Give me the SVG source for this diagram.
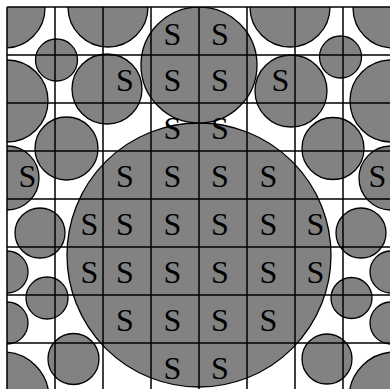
<svg xmlns="http://www.w3.org/2000/svg" width="390" height="389" viewBox="0 0 390 389">
<style>
.c{fill:#828282;stroke:#000;stroke-width:1.3}
.g{stroke:#000;stroke-width:1.5;fill:none}
.s{font-family:"Liberation Serif","Times New Roman",serif;font-size:32px;fill:#000;text-anchor:middle}
</style>
<defs><clipPath id="clip"><rect x="7" y="7" width="384" height="384"/></clipPath></defs>
<rect width="390" height="389" fill="#fff"/>
<g id="circles" clip-path="url(#clip)">
<circle class="c" cx="199" cy="255" r="132"/>
<circle class="c" cx="199" cy="65" r="58"/>
<circle class="c" cx="5" cy="8" r="40"/>
<circle class="c" cx="108" cy="7" r="40"/>
<circle class="c" cx="56.5" cy="60" r="21"/>
<circle class="c" cx="107" cy="89" r="35"/>
<circle class="c" cx="7" cy="101" r="41"/>
<circle class="c" cx="66.5" cy="148.5" r="31.5"/>
<circle class="c" cx="7" cy="178" r="32"/>
<circle class="c" cx="40" cy="233" r="25"/>
<circle class="c" cx="7" cy="272" r="21"/>
<circle class="c" cx="47" cy="298" r="21"/>
<circle class="c" cx="7" cy="323" r="21"/>
<circle class="c" cx="73.5" cy="359" r="25.5"/>
<circle class="c" cx="3" cy="398" r="46"/>
<circle class="c" cx="393" cy="8" r="40"/>
<circle class="c" cx="290" cy="7" r="40"/>
<circle class="c" cx="340.5" cy="57" r="21"/>
<circle class="c" cx="291" cy="91" r="36"/>
<circle class="c" cx="391" cy="101" r="41"/>
<circle class="c" cx="333" cy="148.5" r="31"/>
<circle class="c" cx="391" cy="178" r="32"/>
<circle class="c" cx="361" cy="233" r="25"/>
<circle class="c" cx="391" cy="272" r="21"/>
<circle class="c" cx="351.5" cy="298" r="20.5"/>
<circle class="c" cx="391" cy="323" r="21"/>
<circle class="c" cx="327" cy="359" r="25"/>
<circle class="c" cx="395" cy="398" r="46"/>
</g>
<g id="grid" class="g">
<path d="M7 7V391M55 7V391M103 7V391M151 7V391M199 7V391M247 7V391M295 7V391M343 7V391M391 7V391"/>
<path d="M7 7H391M7 55H391M7 103H391M7 151H391M7 199H391M7 247H391M7 295H391M7 343H391M7 391H391"/>
</g>
<g id="labels" class="s">
<text x="172.5" y="45">S</text><text x="220" y="45">S</text>
<text x="125" y="91">S</text><text x="172.5" y="91">S</text><text x="220" y="91">S</text><text x="280.5" y="91">S</text>
<text x="172.5" y="139">S</text><text x="220" y="139">S</text>
<text x="27.5" y="187">S</text><text x="125" y="187">S</text><text x="172.5" y="187">S</text><text x="220" y="187">S</text><text x="268.5" y="187">S</text><text x="377.5" y="187">S</text>
<text x="89.5" y="235">S</text><text x="125" y="235">S</text><text x="172.5" y="235">S</text><text x="220" y="235">S</text><text x="268.5" y="235">S</text><text x="315.5" y="235">S</text>
<text x="89.5" y="283">S</text><text x="125" y="283">S</text><text x="172.5" y="283">S</text><text x="220" y="283">S</text><text x="268.5" y="283">S</text><text x="315.5" y="283">S</text>
<text x="125" y="331">S</text><text x="172.5" y="331">S</text><text x="220" y="331">S</text><text x="268.5" y="331">S</text>
<text x="172.5" y="379">S</text><text x="220" y="379">S</text>
</g>
</svg>
